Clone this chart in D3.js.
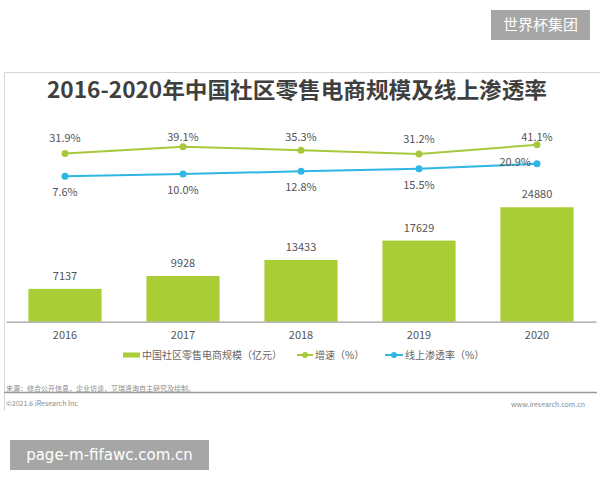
<!DOCTYPE html>
<html><head><meta charset="utf-8">
<script src="https://cdn.jsdelivr.net/npm/d3@7"></script>
<style>body{margin:0;background:#fff}svg{display:block}</style>
</head><body>
<svg id="c" width="600" height="480"></svg>
<script>
const years = ["2016","2017","2018","2019","2020"];
const scale = [7137, 9928, 13433, 17629, 24880];
const growth = [31.9, 39.1, 35.3, 31.2, 41.1];
const penetration = [7.6, 10.0, 12.8, 15.5, 20.9];
const title = "2016-2020年中国社区零售电商规模及线上渗透率";
const legendLabels = ["中国社区零售电商规模（亿元）", "增速（%）", "线上渗透率（%）"];

const svg = d3.select("#c");
const font = "'Noto Sans CJK SC','Noto Sans',sans-serif";
const green = "#a9cd35", lineGreen = "#a8c83c", blue = "#2fb6e3";

// watermarks
svg.append("rect").attr("x",491).attr("y",10).attr("width",99).attr("height",30).attr("fill","#a6a6a6");
svg.append("text").attr("x",540.5).attr("y",25).attr("dy","0.36em").attr("text-anchor","middle")
  .attr("fill","#fff").attr("font-family",font).attr("font-size",15).text("世界杯集团");
svg.append("rect").attr("x",10).attr("y",440).attr("width",199).attr("height",30).attr("fill","#a6a6a6");
svg.append("text").attr("x",109.5).attr("y",455).attr("dy","0.36em").attr("text-anchor","middle")
  .attr("fill","#fff").attr("font-family","'DejaVu Sans',sans-serif").attr("font-size",15).text("page-m-fifawc.com.cn");

// frame
svg.append("path").attr("d","M604,72.5H4.5V411").attr("fill","none").attr("stroke","#d6d6d6").attr("stroke-width",1);

// title
svg.append("text").attr("x",297).attr("y",90).attr("dy","0.36em").attr("text-anchor","middle")
  .attr("font-family",font).attr("font-weight","bold").attr("font-size",22).attr("fill","#3f3f3f")
  .attr("textLength",500).attr("lengthAdjust","spacingAndGlyphs").text(title);

const x = d3.scaleBand().domain(years).range([6,596]).paddingInner(0.38).paddingOuter(0.19);
const y = d3.scaleLinear().domain([0,28000]).range([321.7, 321.7-28000*0.0046]);
const yl = d3.scaleLinear().domain([0,50]).range([183.4, 183.4-47]);
const cx = d => x(d) + x.bandwidth()/2;

// bars
svg.append("g").selectAll("rect").data(years).join("rect")
  .attr("x",d=>x(d)).attr("width",x.bandwidth())
  .attr("y",(d,i)=>y(scale[i])).attr("height",(d,i)=>y(0)-y(scale[i]))
  .attr("fill",green);
svg.append("g").selectAll("text").data(years).join("text")
  .attr("x",cx).attr("y",(d,i)=>y(scale[i])-13).attr("dy","0.36em").attr("text-anchor","middle")
  .attr("font-family",font).attr("font-size",11).attr("fill","#555").text((d,i)=>scale[i]);

// x axis
const ax = svg.append("g").attr("transform","translate(0,321.7)")
  .call(d3.axisBottom(x).tickSize(0).tickPadding(10));
ax.select(".domain").attr("stroke","#a0a0a0").attr("stroke-width",1.3);
ax.selectAll("text").attr("font-family",font).attr("font-size",11).attr("fill","#555");

// lines
const line = arr => d3.line().x((d,i)=>cx(years[i])).y(d=>yl(d))(arr);
svg.append("path").attr("d",line(growth)).attr("fill","none").attr("stroke",lineGreen).attr("stroke-width",2);
svg.append("path").attr("d",line(penetration)).attr("fill","none").attr("stroke",blue).attr("stroke-width",2);
svg.append("g").selectAll("circle").data(growth).join("circle")
  .attr("cx",(d,i)=>cx(years[i])).attr("cy",d=>yl(d)).attr("r",3.5).attr("fill",lineGreen);
svg.append("g").selectAll("circle").data(penetration).join("circle")
  .attr("cx",(d,i)=>cx(years[i])).attr("cy",d=>yl(d)).attr("r",3.5).attr("fill",blue);

svg.append("g").selectAll("text").data(growth).join("text")
  .attr("x",(d,i)=>cx(years[i])).attr("y",d=>Math.max(137, yl(d)-15)).attr("dy","0.36em").attr("text-anchor","middle")
  .attr("font-family",font).attr("font-size",11).attr("fill","#555").text(d=>d.toFixed(1)+"%");
svg.append("g").selectAll("text").data(penetration).join("text")
  .attr("x",(d,i)=> i===penetration.length-1 ? cx(years[i])-6 : cx(years[i]))
  .attr("y",(d,i)=> i===penetration.length-1 ? yl(d)-2 : yl(d)+16).attr("dy","0.36em")
  .attr("text-anchor",(d,i)=> i===penetration.length-1 ? "end" : "middle")
  .attr("font-family",font).attr("font-size",11).attr("fill","#555").text(d=>d.toFixed(1)+"%");

// legend
const lg = svg.append("g").attr("font-family",font).attr("font-size",10).attr("fill","#666");
lg.append("rect").attr("x",123).attr("y",352.5).attr("width",17).attr("height",5).attr("fill",green);
lg.append("text").attr("x",142).attr("y",355).attr("dy","0.36em").text(legendLabels[0]);
lg.append("line").attr("x1",297).attr("x2",313).attr("y1",355).attr("y2",355).attr("stroke",lineGreen).attr("stroke-width",2);
lg.append("circle").attr("cx",305).attr("cy",355).attr("r",3).attr("fill",lineGreen);
lg.append("text").attr("x",315).attr("y",355).attr("dy","0.36em").text(legendLabels[1]);
lg.append("line").attr("x1",385).attr("x2",403).attr("y1",355).attr("y2",355).attr("stroke",blue).attr("stroke-width",2);
lg.append("circle").attr("cx",394).attr("cy",355).attr("r",3).attr("fill",blue);
lg.append("text").attr("x",405).attr("y",355).attr("dy","0.36em").text(legendLabels[2]);

// footer
const ft = svg.append("g").attr("font-family",font).attr("fill","#8a8a8a").attr("font-size",7);
ft.append("text").attr("x",6).attr("y",388).attr("dy","0.36em").text("来源：综合公开信息，企业访谈，艾瑞咨询自主研究及绘制。");
svg.append("line").attr("x1",4).attr("x2",597).attr("y1",392.5).attr("y2",392.5).attr("stroke","#9a9a9a").attr("stroke-width",1.3);
ft.append("text").attr("x",6).attr("y",403).attr("dy","0.36em").text("©2021.6 iResearch Inc");
ft.append("text").attr("x",585).attr("y",404).attr("dy","0.36em").attr("text-anchor","end").text("www.iresearch.com.cn");
</script>
</body></html>
